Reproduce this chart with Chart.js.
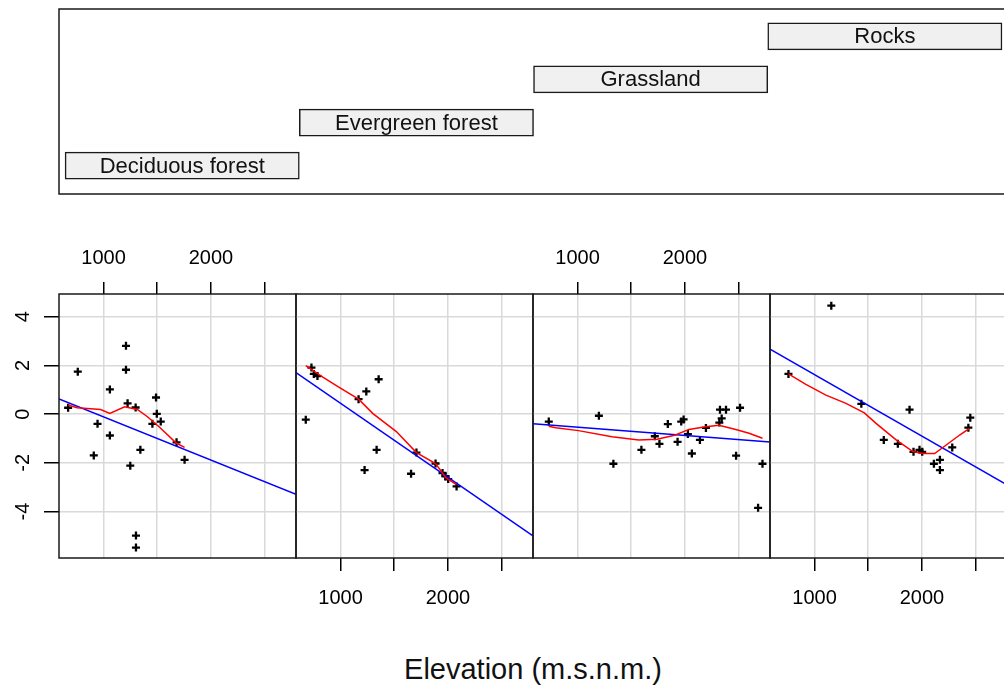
<!DOCTYPE html>
<html><head><meta charset="utf-8">
<script src="https://cdn.jsdelivr.net/npm/chart.js@4"></script>
<style>
html,body{margin:0;padding:0;background:#fff;overflow:hidden;width:1004px;height:693px;}
#wrap{position:relative;width:1004px;height:693px;overflow:hidden;background:#fff;}
canvas{position:absolute;}
#xtitle{position:absolute;left:233px;width:600px;top:655px;text-align:center;font-family:"Liberation Sans",Arial,sans-serif;font-size:29px;line-height:29px;color:#111;white-space:nowrap;}
</style></head>
<body>
<div id="wrap">
<canvas id="given" width="1020" height="210" style="left:0px;top:0px"></canvas>
<canvas id="p0" width="307" height="400" style="left:-1px;top:230px"></canvas>
<canvas id="p1" width="307" height="400" style="left:236px;top:230px"></canvas>
<canvas id="p2" width="307" height="400" style="left:473px;top:230px"></canvas>
<canvas id="p3" width="307" height="400" style="left:710px;top:230px"></canvas>
<div id="xtitle">Elevation (m.s.n.m.)</div>
</div>
<script>
// ---- axis definitions ----
const xTicks = [1000, 1500, 2000, 2500];
const xTickLabels = ['1000', '', '2000', ''];
const yTicks = [-4, -2, 0, 2, 4];
const xRange = [585, 2793];
const yRange = [-5.91, 4.93];

// ---- conditioning factor (given panel) ----
const panelNames = ['Deciduous forest', 'Evergreen forest', 'Grassland', 'Rocks'];
const givenLow = [0.5, 1.5, 2.5, 3.5];
const givenHigh = [1.5, 2.5, 3.5, 4.5];
const givenLevel = [1, 2, 3, 4];

// ---- Deciduous forest ----
const elevDec = [670, 760, 944, 909, 1059, 1059, 1209, 1209, 1224, 1249, 1299, 1343, 1302, 1302, 1455, 1489, 1496, 1533, 1680, 1755];
const resDec = [0.26, 1.74, -0.40, -1.70, 1.01, -0.88, 2.80, 1.82, 0.44, -2.12, 0.27, -1.47, -4.99, -5.48, -0.40, 0.68, 0.01, -0.31, -1.16, -1.88];
const smoothDecX = [670, 754, 972, 1059, 1196, 1315, 1409, 1517, 1680, 1755];
const smoothDecY = [0.37, 0.26, 0.19, 0.03, 0.30, 0.19, -0.11, -0.52, -1.20, -1.37];
const fitX = [585, 2793];
const fitDecY = [0.62, -3.29];

// ---- Evergreen forest ----
const elevEve = [729, 751, 785, 676, 1168, 1240, 1355, 1336, 1224, 1657, 1707, 1885, 1950, 1978, 2003, 2081];
const resEve = [1.91, 1.65, 1.56, -0.23, 0.61, 0.93, 1.43, -1.47, -2.30, -2.45, -1.58, -2.03, -2.42, -2.56, -2.67, -2.97];
const smoothEveX = [676, 835, 991, 1168, 1302, 1520, 1707, 1885, 1986, 2081];
const smoothEveY = [1.99, 1.52, 1.09, 0.61, 0.02, -0.72, -1.58, -2.03, -2.63, -2.90];
const fitEveY = [1.70, -5.00];

// ---- Grassland ----
const elevGra = [732, 1199, 1334, 1595, 1720, 1763, 1841, 1932, 1966, 1988, 2028, 2065, 2140, 2196, 2321, 2343, 2327, 2383, 2514, 2477, 2723, 2682];
const resGra = [-0.31, -0.07, -2.04, -1.47, -0.91, -1.22, -0.41, -1.14, -0.31, -0.22, -0.82, -1.62, -1.06, -0.57, -0.35, -0.18, 0.18, 0.18, 0.26, -1.71, -2.04, -3.85];
const smoothGraX = [732, 797, 1009, 1321, 1570, 1741, 1913, 2037, 2193, 2318, 2474, 2598, 2723];
const smoothGraY = [-0.50, -0.56, -0.68, -0.93, -1.06, -1.03, -0.86, -0.63, -0.52, -0.46, -0.63, -0.79, -0.99];
const fitGraY = [-0.40, -1.15];

// ---- Rocks ----
const elevRoc = [757, 1156, 1436, 1645, 1776, 1885, 1922, 1978, 2003, 2112, 2168, 2168, 2283, 2433, 2451];
const resRoc = [1.65, 4.45, 0.42, -1.06, -1.22, 0.18, -1.55, -1.47, -1.55, -2.04, -1.88, -2.30, -1.37, -0.56, -0.15];
const smoothRocX = [757, 919, 1106, 1293, 1464, 1573, 1760, 1916, 2009, 2119, 2227, 2352, 2440];
const smoothRocY = [1.65, 1.22, 0.78, 0.44, 0.05, -0.38, -1.06, -1.54, -1.62, -1.62, -1.27, -0.86, -0.60];
const fitRocY = [2.67, -2.91];

const panels = [
  {px: elevDec, py: resDec, sx: smoothDecX, sy: smoothDecY, fy: fitDecY},
  {px: elevEve, py: resEve, sx: smoothEveX, sy: smoothEveY, fy: fitEveY},
  {px: elevGra, py: resGra, sx: smoothGraX, sy: smoothGraY, fy: fitGraY},
  {px: elevRoc, py: resRoc, sx: smoothRocX, sy: smoothRocY, fy: fitRocY}
];

Chart.defaults.font.family = '"Liberation Sans", Arial, sans-serif';
Chart.defaults.color = '#000';

function toXY(xs, ys) { return xs.map((x, i) => ({x: x, y: ys[i]})); }

const framePlugin = {
  id: 'frame',
  afterDraw(chart) {
    const a = chart.chartArea, ctx = chart.ctx;
    ctx.save();
    ctx.strokeStyle = '#1a1a1a';
    ctx.lineWidth = 1.5;
    ctx.strokeRect(a.left, a.top, a.right - a.left, a.bottom - a.top);
    ctx.restore();
  }
};

const stripLabels = {
  id: 'stripLabels',
  afterDatasetsDraw(chart) {
    const ctx = chart.ctx;
    const meta = chart.getDatasetMeta(0);
    ctx.save();
    ctx.font = '22px "Liberation Sans", Arial, sans-serif';
    ctx.fillStyle = '#111';
    ctx.textAlign = 'center';
    ctx.textBaseline = 'middle';
    meta.data.forEach((bar, i) => {
      ctx.fillText(panelNames[i], (bar.x + bar.base) / 2, bar.y + 1);
    });
    ctx.restore();
  }
};

// Given (conditioning) panel
new Chart(document.getElementById('given'), {
  type: 'bar',
  data: {
    datasets: [{
      data: panelNames.map((n, i) => ({x: [givenLow[i], givenHigh[i]], y: givenLevel[i]})),
      backgroundColor: '#f0f0f0',
      borderColor: '#1a1a1a',
      borderWidth: 1.5,
      borderSkipped: false,
      barThickness: 27
    }]
  },
  options: {
    indexAxis: 'y',
    responsive: false,
    animation: false,
    events: [],
    layout: {padding: {left: 59, top: 9, right: 11, bottom: 16}},
    plugins: {legend: {display: false}, tooltip: {enabled: false}},
    scales: {
      x: {type: 'linear', min: 0.474, max: 4.53, display: false, offset: false},
      y: {type: 'linear', min: 0.344, max: 4.633, display: false, offset: false}
    }
  },
  plugins: [framePlugin, stripLabels]
});

function panelChart(id, i) {
  const p = panels[i];
  const axisTop = (i % 2 === 0);
  const first = (i === 0);
  return new Chart(document.getElementById(id), {
    type: 'scatter',
    data: {
      datasets: [
        {data: toXY(p.sx, p.sy), showLine: true, borderColor: '#ff0000', borderWidth: 1.5, pointRadius: 0, tension: 0},
        {data: toXY(fitX, p.fy), showLine: true, borderColor: '#0000ff', borderWidth: 1.5, pointRadius: 0},
        {data: toXY(p.px, p.py), showLine: false, pointStyle: 'cross', pointRadius: 4, borderWidth: 2.3, borderColor: '#000', backgroundColor: '#000'}
      ]
    },
    options: {
      responsive: false,
      animation: false,
      events: [],
      layout: {padding: axisTop ? {left: 0, right: 10, top: 0, bottom: 72} : {left: 0, right: 10, top: 64, bottom: 0}},
      plugins: {legend: {display: false}, tooltip: {enabled: false}},
      scales: {
        x: {
          type: 'linear',
          position: axisTop ? 'top' : 'bottom',
          min: xRange[0], max: xRange[1],
          afterBuildTicks: s => { s.ticks = xTicks.map(v => ({value: v})); },
          afterFit: s => { s.height = axisTop ? 64 : 72; },
          grid: {color: '#d9d9d9', lineWidth: 1.5, drawTicks: true, tickLength: axisTop ? 12 : 13, tickColor: '#000', tickWidth: 1.5},
          border: {display: false},
          ticks: {autoSkip: false, minRotation: 0, maxRotation: 0, padding: axisTop ? 12 : 15, color: '#000', font: {size: 20},
                  callback: (v, idx) => xTickLabels[idx]}
        },
        y: {
          type: 'linear',
          position: 'left',
          min: yRange[0], max: yRange[1],
          afterBuildTicks: s => { s.ticks = yTicks.map(v => ({value: v})); },
          afterFit: s => { s.width = 60; },
          grid: {color: '#d9d9d9', lineWidth: 1.5, drawTicks: first, tickLength: 15, tickColor: '#000', tickWidth: 1.5},
          border: {display: false},
          ticks: {display: first, minRotation: 90, maxRotation: 90, crossAlign: 'center', padding: 12, color: '#000', font: {size: 20},
                  callback: v => String(v)}
        }
      }
    },
    plugins: [framePlugin]
  });
}

panelChart('p0', 0);
panelChart('p1', 1);
panelChart('p2', 2);
panelChart('p3', 3);
</script>
</body></html>
